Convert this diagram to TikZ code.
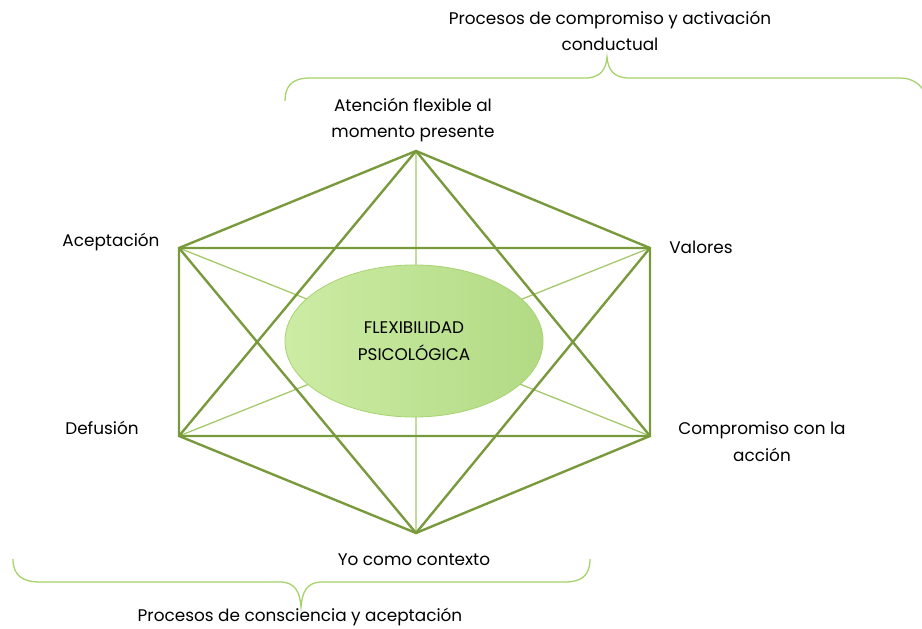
\documentclass[tikz,border=0pt]{standalone}
\usepackage{fontspec}
\setmainfont{Poppins}
\usetikzlibrary{shapes.geometric}
\definecolor{olivedark}{RGB}{121,154,60}
\definecolor{olivelight}{RGB}{163,200,105}
\definecolor{bracegreen}{RGB}{163,210,105}
\definecolor{ellipseleft}{RGB}{204,236,164}
\definecolor{ellipseright}{RGB}{178,218,132}
\definecolor{ellipseborder}{RGB}{170,212,115}

\begin{document}
\begin{tikzpicture}[x=0.025cm,y=-0.025cm,
    label/.style={font=\fontsize{12}{19}\selectfont, align=center, text=black},
    thickline/.style={draw=olivedark, line width=1.7pt, line join=round},
    thinline/.style={draw=olivelight, line width=0.9pt},
    bracestyle/.style={draw=bracegreen, line width=0.9pt}]
    \useasboundingbox (0,0) rectangle (922,629);

    \coordinate (top) at (416,151);
    \coordinate (ul) at (179,248);
    \coordinate (ur) at (650,248);
    \coordinate (ll) at (179,436);
    \coordinate (lr) at (650,436);
    \coordinate (bot) at (416,533);

    \draw[thinline] (ul) -- (lr) (ur) -- (ll) (top) -- (bot);
    \draw[thickline] (top) -- (ur) -- (lr) -- (bot) -- (ll) -- (ul) -- cycle;
    \draw[thickline] (top) -- (ll) -- (lr) -- cycle;
    \draw[thickline] (bot) -- (ul) -- (ur) -- cycle;
    \draw[thickline] (ul) -- (ur) (ll) -- (lr);

    \node[ellipse, minimum width=6.45cm, minimum height=3.8cm, inner sep=0pt,
        draw=ellipseborder, line width=0.6pt, left color=ellipseleft, right color=ellipseright,
        label] (flex) at (414,341) {FLEXIBILIDAD\\PSICOLÓGICA};

    \node[label] (atencion) at (413,120) {Atención flexible al\\momento presente};
    \node[label] (aceptacion) at (111,242) {Aceptación};
    \node[label] (valores) at (701,247) {Valores};
    \node[label] (defusion) at (102,428) {Defusión};
    \node[label] (compromiso) at (762,442) {Compromiso con la\\acción};
    \node[label] (yo) at (414,560) {Yo como contexto};

    \node[label] (activacion) at (610,31) {Procesos de compromiso y activación\\conductual};
    \node[label] (consciencia) at (300,617) {Procesos de consciencia y aceptación};

    \draw[bracestyle] (285,101) .. controls (285,86) and (292,78) .. (310,78) -- (585,78)
        .. controls (600,78) and (606,70) .. (607,57)
        .. controls (608,70) and (614,78) .. (629,78) -- (900,78)
        .. controls (912,78) and (922,84) .. (926,96);
    \draw[bracestyle] (13,559) .. controls (13,575) and (22,582) .. (40,582) -- (280,582)
        .. controls (295,582) and (300,592) .. (301,607)
        .. controls (302,592) and (307,582) .. (322,582) -- (565,582)
        .. controls (582,582) and (590,575) .. (590,559);
\end{tikzpicture}
\end{document}
